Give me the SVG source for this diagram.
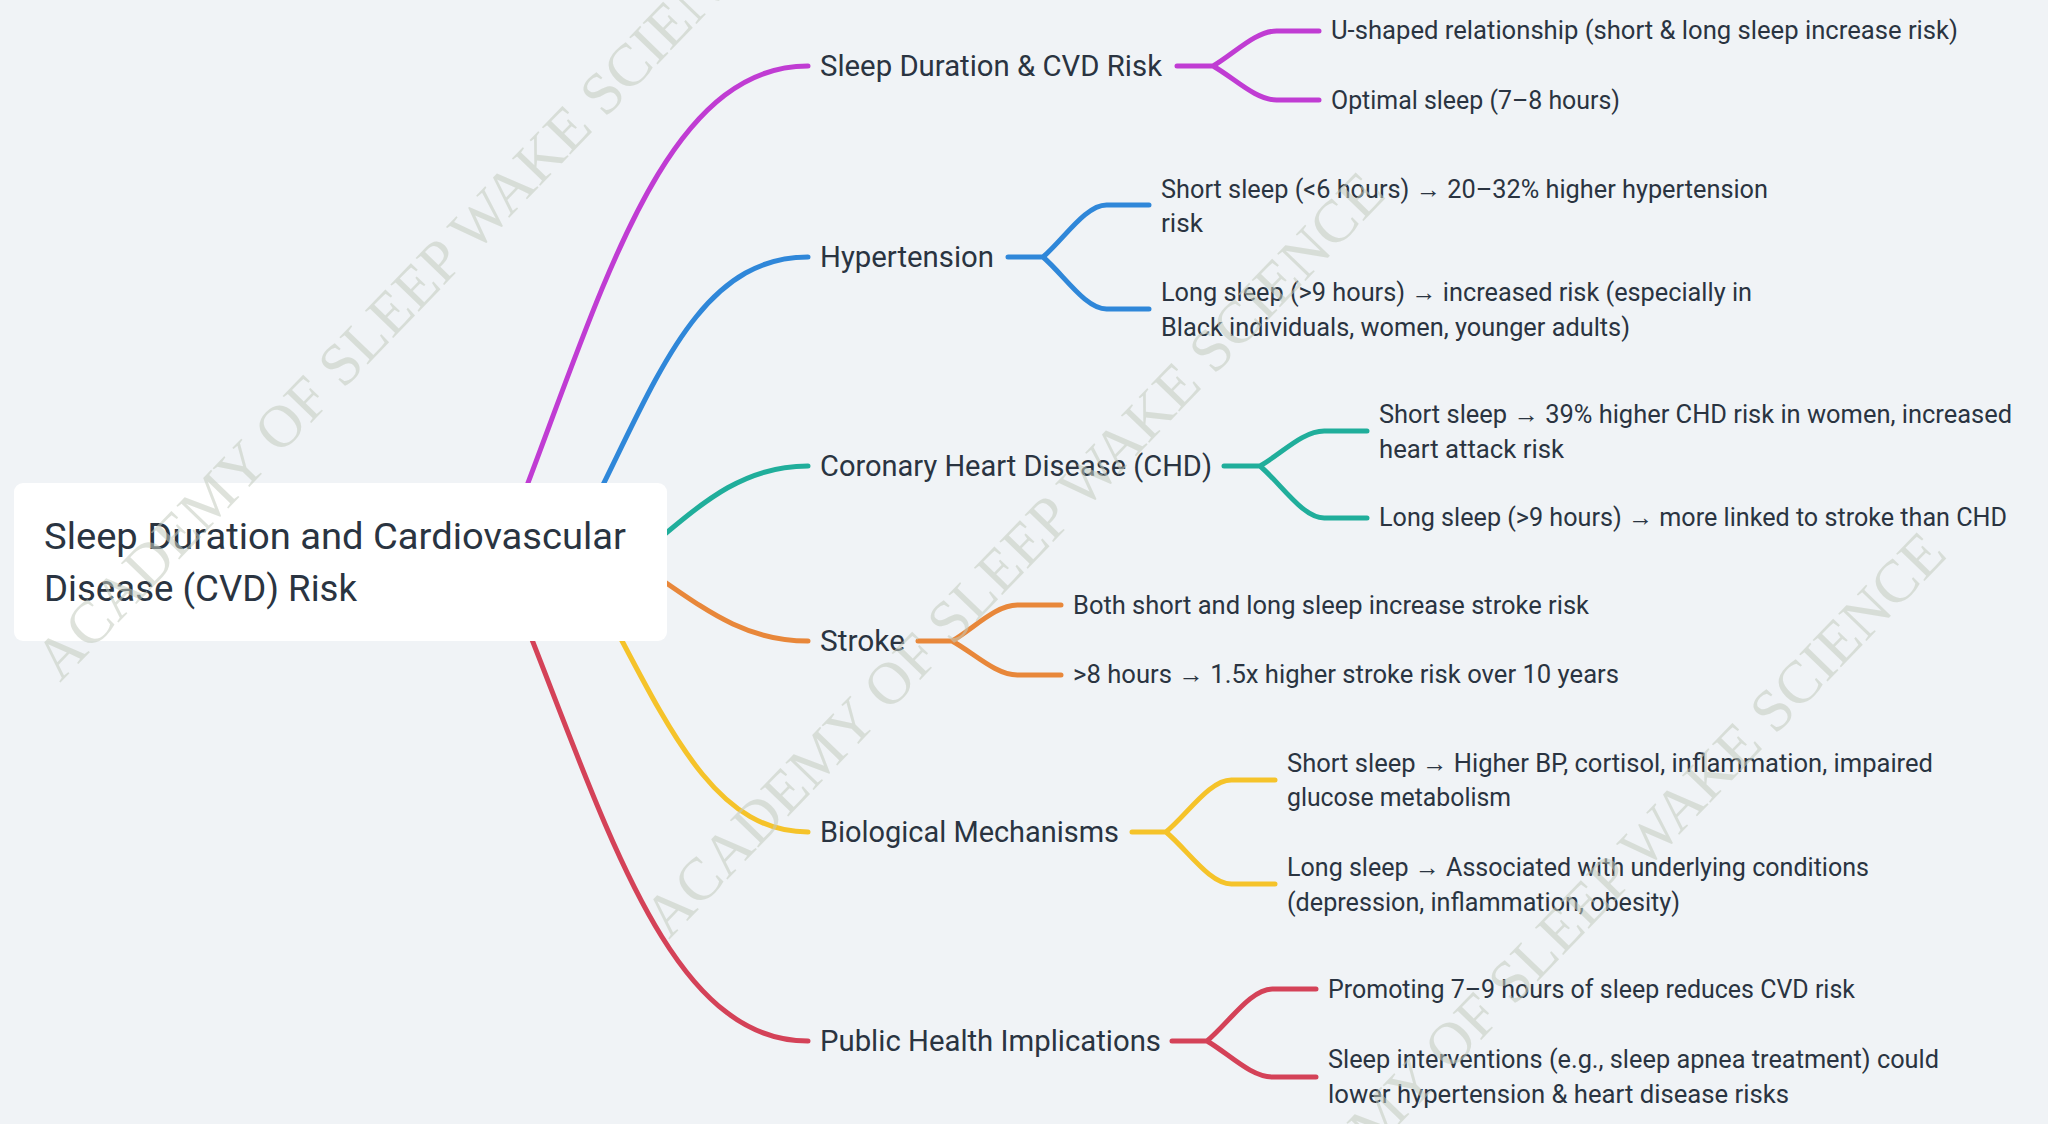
<svg xmlns="http://www.w3.org/2000/svg" width="2048" height="1124" viewBox="0 0 2048 1124">
<style>
.t{font-family:Roboto,"Liberation Sans",sans-serif;fill:#2a3441}
.root{font-size:37.5px}
.l1{font-size:29.3px}
.l2{font-size:25px}
.c{fill:none;stroke-width:5;stroke-linecap:round;stroke-linejoin:round}
.wm{font-family:"Liberation Serif","Times New Roman",serif;font-size:60px;fill:#c4ccbf;opacity:0.55}
</style>
<rect x="0" y="0" width="2048" height="1124" fill="#f0f3f6"/>
<g id="connectors">
<path class="c" stroke="#c03cd3" d="M510 530 C600 300 660 66 808 66"/>
<path class="c" stroke="#2f87d9" d="M575 540 C650 400 690 257 808 257"/>
<path class="c" stroke="#20ae9b" d="M640 555 C700 505 740 466 808 466"/>
<path class="c" stroke="#e8873a" d="M640 565 C700 605 740 641 808 641"/>
<path class="c" stroke="#f5c32a" d="M590 580 C665 720 710 832 808 832"/>
<path class="c" stroke="#d44258" d="M500 560 C600 800 660 1041 808 1041"/>
<path class="c" stroke="#c03cd3" d="M1177 66 H1213 C1234.2 53.75 1255.4 31 1276.6 31 H1319 M1213 66 C1234.2 77.9 1255.4 100 1276.6 100 H1319"/>
<path class="c" stroke="#2f87d9" d="M1008 257 H1043 C1064.2 238.8 1085.4 205 1106.6 205 H1149 M1043 257 C1064.2 275.2 1085.4 309 1106.6 309 H1149"/>
<path class="c" stroke="#20ae9b" d="M1224 466 H1260 C1281.4 453.75 1302.8 431 1324.2 431 H1367 M1260 466 C1281.4 484.2 1302.8 518 1324.2 518 H1367"/>
<path class="c" stroke="#e8873a" d="M918 641 H952 C973.8 628.4 995.6 605 1017.4 605 H1061 M952 641 C973.8 652.9 995.6 675 1017.4 675 H1061"/>
<path class="c" stroke="#f5c32a" d="M1132 832 H1166 C1187.8 813.8 1209.6 780 1231.4 780 H1275 M1166 832 C1187.8 850.2 1209.6 884 1231.4 884 H1275"/>
<path class="c" stroke="#d44258" d="M1172 1041 H1207 C1228.8 1022.8 1250.6 989 1272.4 989 H1316 M1207 1041 C1228.8 1053.6 1250.6 1077 1272.4 1077 H1316"/>
</g>
<g id="root">
<rect x="14" y="483" width="653" height="158" rx="9" fill="#ffffff"/>
<text class="t root" x="44" y="549" textLength="582" lengthAdjust="spacingAndGlyphs">Sleep Duration and Cardiovascular</text>
<text class="t root" x="44" y="601" textLength="313" lengthAdjust="spacingAndGlyphs">Disease (CVD) Risk</text>
</g>
<g id="n-sleep"><text class="t l1" x="820" y="76" textLength="342" lengthAdjust="spacingAndGlyphs">Sleep Duration &amp; CVD Risk</text></g>
<g id="n-hyp"><text class="t l1" x="820" y="267" textLength="174" lengthAdjust="spacingAndGlyphs">Hypertension</text></g>
<g id="n-chd"><text class="t l1" x="820" y="476" textLength="392" lengthAdjust="spacingAndGlyphs">Coronary Heart Disease (CHD)</text></g>
<g id="n-stroke"><text class="t l1" x="820" y="651" textLength="85" lengthAdjust="spacingAndGlyphs">Stroke</text></g>
<g id="n-bio"><text class="t l1" x="820" y="842" textLength="299" lengthAdjust="spacingAndGlyphs">Biological Mechanisms</text></g>
<g id="n-public"><text class="t l1" x="820" y="1051" textLength="341" lengthAdjust="spacingAndGlyphs">Public Health Implications</text></g>
<g id="n-sleep-1"><text class="t l2" x="1331" y="39" textLength="627" lengthAdjust="spacingAndGlyphs">U-shaped relationship (short &amp; long sleep increase risk)</text></g>
<g id="n-sleep-2"><text class="t l2" x="1331" y="109" textLength="289" lengthAdjust="spacingAndGlyphs">Optimal sleep (7–8 hours)</text></g>
<g id="n-hyp-1"><text class="t l2" x="1161" y="198" textLength="607" lengthAdjust="spacingAndGlyphs">Short sleep (&lt;6 hours) → 20–32% higher hypertension</text><text class="t l2" x="1161" y="232" textLength="42" lengthAdjust="spacingAndGlyphs">risk</text></g>
<g id="n-hyp-2"><text class="t l2" x="1161" y="301" textLength="591" lengthAdjust="spacingAndGlyphs">Long sleep (&gt;9 hours) → increased risk (especially in</text><text class="t l2" x="1161" y="336" textLength="469" lengthAdjust="spacingAndGlyphs">Black individuals, women, younger adults)</text></g>
<g id="n-chd-1"><text class="t l2" x="1379" y="423" textLength="633" lengthAdjust="spacingAndGlyphs">Short sleep → 39% higher CHD risk in women, increased</text><text class="t l2" x="1379" y="458" textLength="185" lengthAdjust="spacingAndGlyphs">heart attack risk</text></g>
<g id="n-chd-2"><text class="t l2" x="1379" y="526" textLength="628" lengthAdjust="spacingAndGlyphs">Long sleep (&gt;9 hours) → more linked to stroke than CHD</text></g>
<g id="n-stroke-1"><text class="t l2" x="1073" y="614" textLength="516" lengthAdjust="spacingAndGlyphs">Both short and long sleep increase stroke risk</text></g>
<g id="n-stroke-2"><text class="t l2" x="1073" y="683" textLength="546" lengthAdjust="spacingAndGlyphs">&gt;8 hours → 1.5x higher stroke risk over 10 years</text></g>
<g id="n-bio-1"><text class="t l2" x="1287" y="772" textLength="646" lengthAdjust="spacingAndGlyphs">Short sleep → Higher BP, cortisol, inflammation, impaired</text><text class="t l2" x="1287" y="806" textLength="224" lengthAdjust="spacingAndGlyphs">glucose metabolism</text></g>
<g id="n-bio-2"><text class="t l2" x="1287" y="876" textLength="582" lengthAdjust="spacingAndGlyphs">Long sleep → Associated with underlying conditions</text><text class="t l2" x="1287" y="911" textLength="393" lengthAdjust="spacingAndGlyphs">(depression, inflammation, obesity)</text></g>
<g id="n-public-1"><text class="t l2" x="1328" y="998" textLength="527" lengthAdjust="spacingAndGlyphs">Promoting 7–9 hours of sleep reduces CVD risk</text></g>
<g id="n-public-2"><text class="t l2" x="1328" y="1068" textLength="611" lengthAdjust="spacingAndGlyphs">Sleep interventions (e.g., sleep apnea treatment) could</text><text class="t l2" x="1328" y="1103" textLength="461" lengthAdjust="spacingAndGlyphs">lower hypertension &amp; heart disease risks</text></g>
<g id="watermark">
<text class="wm" transform="translate(60 683) rotate(-46)">ACADEMY OF SLEEP WAKE SCIENCE</text>
<text class="wm" transform="translate(669 940) rotate(-46)">ACADEMY OF SLEEP WAKE SCIENCE</text>
<text class="wm" transform="translate(1230 1300) rotate(-46)">ACADEMY OF SLEEP WAKE SCIENCE</text>
</g>
</svg>
